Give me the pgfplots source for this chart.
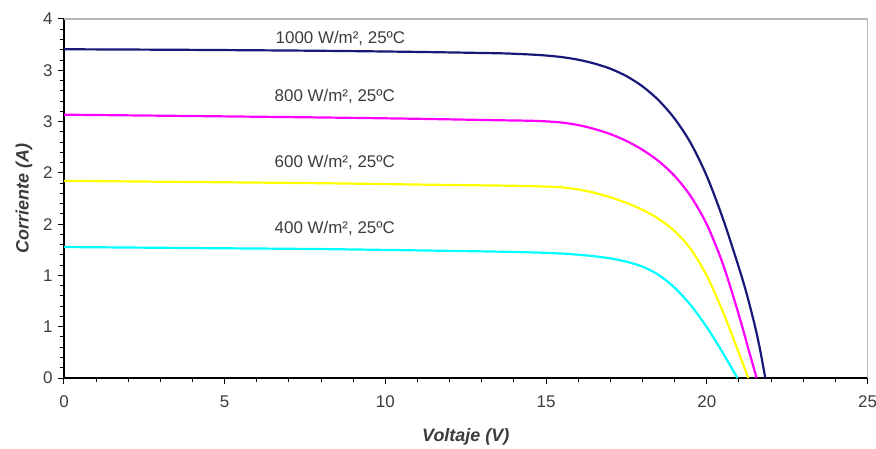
\documentclass[border=0pt]{standalone}
\usepackage{pgfplots}
\pgfplotsset{compat=1.18}
\usepackage{fontspec}
\setmainfont{Liberation Sans}
\definecolor{cnavy}{RGB}{24,24,120}
\definecolor{cmag}{RGB}{255,0,255}
\definecolor{cyel}{RGB}{255,255,0}
\definecolor{ccya}{RGB}{0,255,255}
\definecolor{labgray}{RGB}{60,60,60}
\begin{document}
\begin{tikzpicture}
\useasboundingbox (-64bp,-71bp) rectangle (812bp,378bp);
\begin{axis}[
  at={(0,0)}, anchor=south west,
  scale only axis,
  width=803.5bp, height=359bp,
  xmin=0, xmax=25, ymin=0, ymax=3.5,
  axis lines=left,
  axis line style={-, black, line width=1.6bp},
  xtick={0,5,10,15,20,25},
  xticklabels={0,5,10,15,20,25},
  ytick={0,0.5,1,1.5,2,2.5,3,3.5},
  yticklabels={0,1,1,2,2,3,3,4},
  minor x tick num=4,
  minor y tick num=4,
  tick align=outside,
  major tick length=6bp,
  minor tick length=4bp,
  tick style={black, line width=1bp},
  ticklabel style={font=\fontsize{17}{20}\selectfont, text=labgray},
  xticklabel shift=8bp,
  yticklabel shift=2bp,
  every axis x label/.style={at={(axis description cs:0.5,0)}, yshift=-59bp, anchor=center},
  every axis y label/.style={at={(axis description cs:0,0.5)}, xshift=-40bp, anchor=center, rotate=90},
  label style={font=\fontsize{18}{21}\selectfont\bfseries\itshape, text=labgray},
  xlabel={Voltaje (V)},
  ylabel={Corriente (A)},
  clip=false,
]
\draw[gray!55, line width=1.3bp] (rel axis cs:0,1) -- (rel axis cs:1,1) -- (rel axis cs:1,0);
% 1000 W/m2
\addplot[cnavy, line width=2.2bp, smooth, tension=0.5] coordinates {
(0,3.205) (4,3.199) (8,3.19) (11,3.179) (13.5,3.166) (14,3.161) (14.5,3.154) (15,3.144)
(15.5,3.128) (16,3.103) (16.5,3.066) (17,3.015) (17.5,2.943) (18,2.843) (18.5,2.708)
(19,2.528) (19.5,2.29) (20,1.968) (20.5,1.555) (21,1.075) (21.25,0.81) (21.5,0.504)
(21.66,0.272) (21.82,0)};
% 800 W/m2
\addplot[cmag, line width=2.2bp, smooth, tension=0.5] coordinates {
(0,2.567) (4,2.554) (8,2.54) (11,2.527) (13.5,2.513) (14.5,2.508) (15,2.502) (15.5,2.49)
(16,2.466) (16.5,2.428) (17,2.378) (17.5,2.311) (18,2.2245) (18.5,2.1145) (19,1.9695)
(19.5,1.772) (20,1.497) (20.5,1.112) (21,0.612) (21.3,0.276) (21.55,0)};
% 600 W/m2
\addplot[cyel, line width=2.2bp, smooth, tension=0.5] coordinates {
(0,1.922) (4,1.911) (8,1.899) (11,1.886) (13.5,1.876) (14.5,1.871) (15,1.866) (15.5,1.858)
(16,1.838) (16.5,1.806) (17,1.762) (17.5,1.707) (18,1.6395) (18.5,1.552) (19,1.432)
(19.5,1.257) (20,0.997) (20.5,0.647) (21,0.242) (21.29,0)};
% 400 W/m2
\addplot[ccya, line width=2.2bp, smooth, tension=0.5] coordinates {
(0,1.277) (4,1.267) (8,1.257) (11,1.244) (13.5,1.232) (14.5,1.225) (15,1.22) (15.5,1.213)
(16,1.202) (16.5,1.187) (17,1.1655) (17.5,1.134) (18,1.0855) (18.5,1.0055) (19,0.88)
(19.5,0.71) (20,0.495) (20.5,0.245) (20.95,0)};
\node[anchor=west, font=\fontsize{17}{20}\selectfont, text=labgray, inner sep=0pt] at (axis cs:6.58,3.315) {1000 W/m², 25ºC};
\node[anchor=west, font=\fontsize{17}{20}\selectfont, text=labgray, inner sep=0pt] at (axis cs:6.55,2.747) {800 W/m², 25ºC};
\node[anchor=west, font=\fontsize{17}{20}\selectfont, text=labgray, inner sep=0pt] at (axis cs:6.55,2.10) {600 W/m², 25ºC};
\node[anchor=west, font=\fontsize{17}{20}\selectfont, text=labgray, inner sep=0pt] at (axis cs:6.55,1.458) {400 W/m², 25ºC};
\end{axis}
\end{tikzpicture}
\end{document}
